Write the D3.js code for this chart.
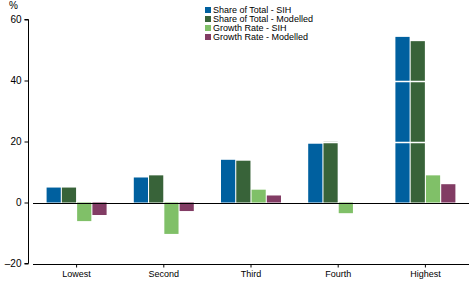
<!DOCTYPE html>
<html><head><meta charset="utf-8">
<script src="https://cdn.jsdelivr.net/npm/d3@7"></script>
<style>body{margin:0;background:#fff}svg{display:block;font-family:"Liberation Sans",Arial,sans-serif}</style>
</head><body><svg id="c" width="472" height="283"></svg>
<script>
const categories = ["Lowest","Second","Third","Fourth","Highest"];
const seriesNames = ["Share of Total - SIH","Share of Total - Modelled","Growth Rate - SIH","Growth Rate - Modelled"];
const shareSIH = [4.9, 8.2, 14.0, 19.3, 54.3];
const shareModelled = [4.9, 8.9, 13.7, 19.9, 52.9];
const growthSIH = [-6.1, -10.3, 4.2, -3.5, 8.9];
const growthModelled = [-4.1, -2.8, 2.3, 0, 6.0];
const yTicks = [-20, 0, 20, 40, 60];
const colors = ["#00609f","#386339","#80c068","#823c64"];

const series = [shareSIH, shareModelled, growthSIH, growthModelled];
const svg = d3.select("#c");
const x0 = 33, x1 = 469;
const y = d3.scaleLinear().domain([-20, 60]).range([263.5, 19.5]);
const xb = d3.scaleBand().domain(categories).range([x0, x1]);
const xs = d3.scaleBand().domain(d3.range(4)).range([0, 60]).paddingInner(0.07);
const off = (xb.bandwidth() - 60) / 2;

// bars
const g = svg.append("g");
categories.forEach((c, i) => {
  series.forEach((s, k) => {
    const v = s[i];
    if (v === 0) return;
    g.append("rect")
      .attr("x", xb(c) + off + xs(k))
      .attr("width", xs.bandwidth())
      .attr("y", y(Math.max(0, v)))
      .attr("height", Math.abs(y(v) - y(0)))
      .attr("fill", colors[k]);
  });
});

// white gridlines over bars
[20, 40].forEach(t => {
  svg.append("line").attr("x1", x0).attr("x2", x1)
    .attr("y1", Math.round(y(t)) + 0.5).attr("y2", Math.round(y(t)) + 0.5)
    .attr("stroke", "#fff").attr("stroke-width", 1.5);
});

// zero line
svg.append("line").attr("x1", x0).attr("x2", x1)
  .attr("y1", Math.round(y(0)) + 0.5).attr("y2", Math.round(y(0)) + 0.5)
  .attr("stroke", "#000").attr("stroke-width", 1);

// y axis
const ya = svg.append("g").attr("transform", "translate(28.5,0)")
  .call(d3.axisLeft(y).tickValues(yTicks).tickSize(4).tickPadding(3).tickFormat(d => d < 0 ? "\u2013" + Math.abs(d) : d));
ya.select(".domain").attr("d", `M-4,${y(60)}H0V${y(-20)}H-4`);
ya.selectAll("text").attr("font-size", 10).attr("font-family", "Liberation Sans, Arial, sans-serif").attr("fill", "#000");

// x axis
const xa = svg.append("g").attr("transform", `translate(0,${Math.round(y(-20)) + 0.5})`)
  .call(d3.axisBottom(xb).tickSize(3).tickPadding(3));
xa.select(".domain").attr("d", `M${x0},0H${x1}`);
xa.selectAll("text").attr("font-size", 9).attr("font-family", "Liberation Sans, Arial, sans-serif").attr("fill", "#000");

// % label
svg.append("text").attr("x", 9).attr("y", 9).attr("font-size", 10).text("%");

// legend
const lg = svg.append("g").attr("transform", "translate(205,7)");
seriesNames.forEach((n, k) => {
  lg.append("rect").attr("x", 0).attr("y", k * 9).attr("width", 6).attr("height", 6).attr("fill", colors[k]);
  lg.append("text").attr("x", 8).attr("y", k * 9 + 6).attr("font-size", 9).text(n);
});
</script></body></html>
